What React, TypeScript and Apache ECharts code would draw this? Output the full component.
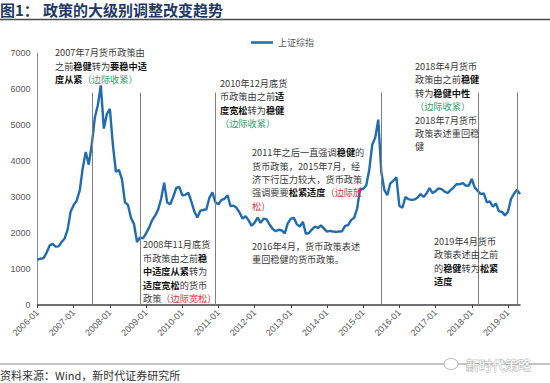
import React, { useEffect, useRef } from 'react';
import * as echarts from 'echarts';

// ---------- data ----------
const categories: string[] = [];
for (let y = 2006; y <= 2019; y++) {
  for (let m = 1; m <= 12; m++) {
    if (y === 2019 && m > 5) break;
    categories.push(`${y}-${String(m).padStart(2, '0')}`);
  }
}

const sse2006 = [1260, 1290, 1300, 1450, 1650, 1700, 1620, 1630, 1750, 1850, 2100, 2600];
const sse2007 = [2780, 2900, 3180, 3800, 4250, 3900, 4450, 5200, 5550, 6100, 4900, 5300];
const sse2008 = [5450, 4450, 3700, 3750, 3500, 2850, 2780, 2420, 2250, 1750, 1880, 1850];
const sse2009 = [1990, 2150, 2350, 2480, 2650, 2950, 3400, 2850, 2800, 3000, 3250, 3280];
const sse2010 = [3050, 3060, 3120, 2880, 2600, 2430, 2620, 2640, 2660, 2980, 3130, 2850];
const sse2011 = [2800, 2920, 2950, 3050, 2750, 2760, 2700, 2570, 2400, 2470, 2350, 2200];
const sse2012 = [2290, 2430, 2280, 2400, 2380, 2230, 2110, 2050, 2090, 2070, 1990, 2270];
const sse2013 = [2400, 2420, 2240, 2180, 2310, 1980, 2000, 2100, 2180, 2140, 2210, 2120];
const sse2014 = [2040, 2060, 2040, 2030, 2040, 2050, 2200, 2220, 2360, 2420, 2680, 3230];
const sse2015 = [3220, 3320, 3750, 4450, 4650, 5150, 3700, 3200, 3050, 3380, 3450, 3550];
const sse2016 = [2750, 2700, 3000, 2940, 2920, 2930, 2980, 3080, 3000, 3100, 3250, 3110];
const sse2017 = [3160, 3240, 3220, 3150, 3110, 3190, 3270, 3360, 3350, 3390, 3320, 3310];
const sse2018 = [3500, 3260, 3170, 3080, 3100, 2850, 2880, 2730, 2820, 2600, 2590, 2490];
const sse2019 = [2590, 2940, 3090, 3200, 3080];

const sseValues = [
  ...sse2006, ...sse2007, ...sse2008, ...sse2009, ...sse2010, ...sse2011, ...sse2012,
  ...sse2013, ...sse2014, ...sse2015, ...sse2016, ...sse2017, ...sse2018, ...sse2019,
];

const seriesName = '上证综指';
const policyDates = ['2007-07', '2008-11', '2010-12', '2015-07', '2018-03', '2019-04'];
const policyLineTop = 5900;
const yMin = 0;
const yMax = 7000;
const yInterval = 1000;

const titleNo = '图1：';
const titleText = '政策的大级别调整改变趋势';
const sourceText = '资料来源：Wind，新时代证券研究所';
const watermarkText = '新时代策略';

// annotation lines (rich text markup): n normal, b bold, g green, r red
const ann1 = ['{n|2007年7月货币政策由}', '{n|之前}{b|稳健}{n|转为}{b|要稳中适}', '{b|度从紧}{g|（边际收紧）}'];
const ann2 = ['{n|2010年12月底货}', '{n|币政策由之前}{b|适}', '{b|度宽松}{n|转为}{b|稳健}', '{g|（边际收紧）}'];
const ann3 = [
  '{n|2011年之后一直强调}{b|稳健}{n|的}',
  '{n|货币政策，2015年7月，经}',
  '{n|济下行压力较大，货币政策}',
  '{n|强调要要}{b|松紧适度}{r|（边际放}',
  '{r|松）}',
];
const ann4 = ['{n|2016年4月，货币政策表述}', '{n|重回稳健的货币政策。}'];
const ann5 = [
  '{n|2008年11月底货}',
  '{n|币政策由之前}{b|稳}',
  '{b|中适度从紧}{n|转为}',
  '{b|适度宽松}{n|的货币}',
  '{n|政策}{r|（边际宽松）}',
];
const ann6 = [
  '{n|2018年4月货币}',
  '{n|政策由之前}{b|稳健}',
  '{n|转为}{b|稳健中性}',
  '{g|（边际收紧）}',
  '{n|2018年7月货币}',
  '{n|政策表述重回稳}',
  '{n|健}',
];
const ann7 = ['{n|2019年4月货币}', '{n|政策表述由之前}', '{n|的}{b|稳健}{n|转为}{b|松紧}', '{b|适度}'];

const LH = 13.4;
const annotations = [
  { lines: ann1, x: 55, y0: 52.4 },
  { lines: ann2, x: 220, y0: 82.7 },
  { lines: ann3, x: 252, y0: 152.2 },
  { lines: ann4, x: 252, y0: 245.5 },
  { lines: ann5, x: 143, y0: 244.3 },
  { lines: ann6, x: 415, y0: 66 },
  { lines: ann7, x: 434, y0: 240.7 },
];

const CJK = '"Noto Sans CJK SC", "Noto Sans", sans-serif';
const LAT = '"Liberation Sans", Arial, sans-serif';
const FS = 9.2;

const rich = {
  n: { fill: '#3a3a3a', fontSize: FS, fontFamily: CJK },
  b: { fill: '#111111', fontSize: FS, fontFamily: CJK, fontWeight: 'bold' },
  g: { fill: '#2ea36a', fontSize: FS, fontFamily: CJK },
  r: { fill: '#dc2f3a', fontSize: FS, fontFamily: CJK },
};

export default function App() {
  const ref = useRef<HTMLDivElement>(null);
  useEffect(() => {
    if (!ref.current) return;
    const chart = echarts.init(ref.current, undefined, { renderer: 'svg' });

    const graphics: any[] = [];
    graphics.push({
      type: 'text', left: 0, top: 2,
      style: { text: titleNo, fill: '#1f3864', font: `bold 15px ${CJK}` },
    });
    graphics.push({
      type: 'text', x: 43, y: 2,
      style: { text: titleText, fill: '#1f3864', font: `bold 15px ${CJK}` },
    });
    graphics.push({
      type: 'line', shape: { x1: 0, y1: 19.5, x2: 550, y2: 19.5 },
      style: { stroke: '#4a4a4a', lineWidth: 1.5 },
    });
    graphics.push({
      type: 'line', shape: { x1: 0, y1: 364, x2: 550, y2: 364 },
      style: { stroke: '#8a8a8a', lineWidth: 1 },
    });
    graphics.push({
      type: 'text', x: 0, y: 375,
      style: { text: sourceText, fill: '#333333', font: `11px ${CJK}`, verticalAlign: 'middle' },
    });
    graphics.push({
      type: 'ellipse', shape: { cx: 451, cy: 364, rx: 7, ry: 5.5 },
      style: { fill: '#ffffff', stroke: '#b5b5b5', lineWidth: 1 },
    });
    graphics.push({
      type: 'text', x: 466, y: 364,
      style: { text: watermarkText, fill: '#ffffff', stroke: '#a8a8a8', lineWidth: 0.8, font: `13px ${CJK}`, verticalAlign: 'middle' },
    });

    annotations.forEach((a) => {
      a.lines.forEach((line, i) => {
        graphics.push({
          type: 'text', x: a.x, y: a.y0 + i * LH, z: 100,
          style: { text: line, rich, fontSize: FS, fontFamily: CJK, verticalAlign: 'middle', fill: '#3a3a3a' },
        });
      });
    });

    const markData = policyDates.map((d) => [
      { coord: [d, yMin] },
      { coord: [d, policyLineTop] },
    ]);

    chart.setOption({
      animation: false,
      grid: { left: 37.5, right: 30, top: 53, bottom: 78, containLabel: false },
      legend: {
        data: [seriesName],
        left: 246, top: 33,
        icon: 'rect', itemWidth: 22, itemHeight: 2.5, itemGap: 6,
        textStyle: { fontSize: 9, color: '#595959', fontFamily: CJK },
      },
      xAxis: {
        type: 'category',
        data: categories,
        boundaryGap: false,
        axisLine: { lineStyle: { color: '#404040', width: 1.5 } },
        axisTick: { interval: 11, length: 3, lineStyle: { color: '#404040' } },
        axisLabel: {
          interval: 11, rotate: 45, fontSize: 9, color: '#595959',
          fontFamily: LAT, margin: 6,
        },
        splitLine: { show: false },
      },
      yAxis: {
        type: 'value', min: yMin, max: yMax, interval: yInterval,
        axisLine: { show: true, lineStyle: { color: '#8c8c8c', width: 1 } },
        axisTick: { show: false },
        axisLabel: { fontSize: 9, color: '#595959', fontFamily: LAT, margin: 7, formatter: (v: number) => String(v) },
        splitLine: { show: false },
      },
      series: [
        {
          name: seriesName,
          type: 'line',
          data: sseValues,
          showSymbol: false,
          symbol: 'none',
          lineStyle: { color: '#1f6cb0', width: 2.4 },
          itemStyle: { color: '#1f6cb0' },
          markLine: {
            silent: true,
            symbol: ['none', 'none'],
            label: { show: false },
            lineStyle: { color: '#7f7f7f', width: 1, type: 'solid' },
            data: markData,
          },
        },
      ],
      graphic: graphics,
    });
    return () => chart.dispose();
  }, []);
  return <div ref={ref} style={{ position: 'fixed', left: 0, top: 0, width: 550, height: 383, background: '#fff' }} />;
}
